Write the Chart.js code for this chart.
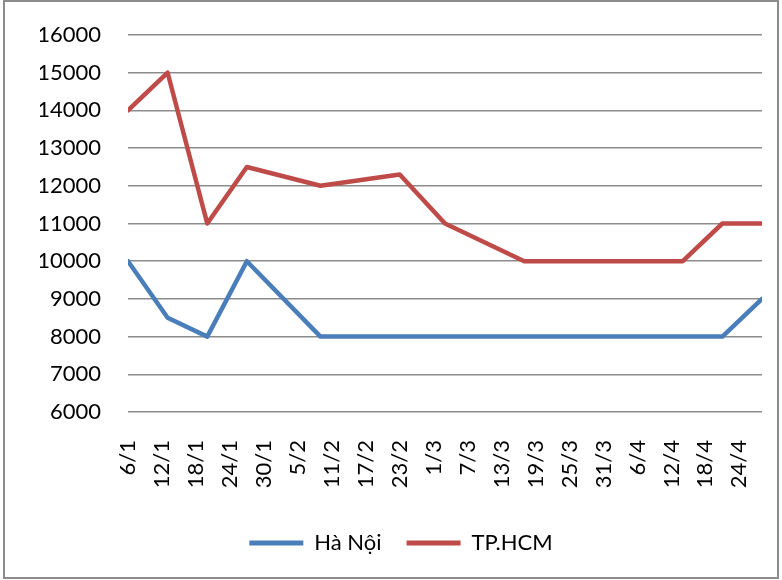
<!DOCTYPE html>
<html>
<head>
<meta charset="utf-8">
<script src="https://cdn.jsdelivr.net/npm/chart.js@4/dist/chart.umd.min.js"></script>
<style>
html,body{margin:0;padding:0;background:#fff;}
#wrap{width:782px;height:580px;position:relative;}
</style>
</head>
<body>
<div id="wrap"><canvas id="c" width="782" height="580"></canvas></div>
<script>
// Dates of observations (d/m, non-leap year)
const pointDates = ['6/1','13/1','20/1','27/1','9/2','23/2','3/3','17/3','14/4','21/4','28/4'];
const hanoi = [10000, 8500, 8000, 10000, 8000, 8000, 8000, 8000, 8000, 8000, 9000];
const hcm   = [14000, 15000, 11000, 12500, 12000, 12300, 11000, 10000, 10000, 11000, 11000];
const tickLabels = ['6/1','12/1','18/1','24/1','30/1','5/2','11/2','17/2','23/2','1/3','7/3','13/3','19/3','25/3','31/3','6/4','12/4','18/4','24/4'];
const seriesNames = ['Hà Nội', 'TP.HCM'];
const axisStart = '6/1';
const axisEnd = '28/4';

const monthLen = [31,28,31,30,31,30,31,31,30,31,30,31];
function dayOfYear(s){
  const [d,m] = s.split('/').map(Number);
  let n = d;
  for (let i = 0; i < m-1; i++) n += monthLen[i];
  return n;
}
const base = dayOfYear(axisStart);
const toX = s => dayOfYear(s) - base;
const tickDays = tickLabels.map(toX);

const FONT = {family: 'Lato', size: 22};

const borderPlugin = {
  id: 'frame',
  afterDraw(chart){
    const ctx = chart.ctx;
    ctx.save();
    ctx.strokeStyle = '#8c8c8c';
    ctx.lineWidth = 2;
    ctx.strokeRect(4, 1, 774, 577);
    ctx.restore();
  }
};

new Chart(document.getElementById('c'), {
  type: 'line',
  data: {
    datasets: [
      {
        label: seriesNames[0],
        data: pointDates.map((d,i)=>({x: toX(d), y: hanoi[i]})),
        borderColor: '#4a7ebb',
        backgroundColor: '#4a7ebb',
        borderWidth: 4.5,
        pointRadius: 0,
        tension: 0,
        borderJoinStyle: 'round',
        borderCapStyle: 'round'
      },
      {
        label: seriesNames[1],
        data: pointDates.map((d,i)=>({x: toX(d), y: hcm[i]})),
        borderColor: '#be4b48',
        backgroundColor: '#be4b48',
        borderWidth: 4.5,
        pointRadius: 0,
        tension: 0,
        borderJoinStyle: 'round',
        borderCapStyle: 'round'
      }
    ]
  },
  options: {
    responsive: false,
    animation: false,
    devicePixelRatio: 1,
    layout: {padding: {left: 40, right: 20, top: 35, bottom: 16}},
    plugins: {
      tooltip: {enabled: false},
      legend: {
        position: 'bottom',
        labels: {
          font: FONT,
          color: '#000',
          boxWidth: 54,
          boxHeight: 5,
          padding: 25,
          generateLabels(chart){
            const items = Chart.defaults.plugins.legend.labels.generateLabels(chart);
            items.forEach(it => { it.lineWidth = 0; it.strokeStyle = it.fillStyle; });
            return items;
          }
        }
      }
    },
    scales: {
      x: {
        type: 'linear',
        min: 0,
        max: toX(axisEnd),
        afterBuildTicks(scale){ scale.ticks = tickDays.map(v => ({value: v})); },
        afterFit(scale){ scale.height = 95; scale.paddingLeft = 0; scale.paddingRight = 0; },
        grid: {display: false, drawTicks: false},
        border: {display: false},
        ticks: {
          font: FONT,
          color: '#000',
          minRotation: 90,
          maxRotation: 90,
          autoSkip: false,
          padding: 28,
          callback(v, i){ return tickLabels[i]; }
        }
      },
      y: {
        min: 6000,
        max: 16000,
        afterFit(scale){ scale.width = 88; scale.paddingTop = 0; scale.paddingBottom = 0; },
        grid: {color: '#8c8c8c', lineWidth: 1.5, drawTicks: false},
        border: {display: false},
        ticks: {
          font: FONT,
          color: '#000',
          stepSize: 1000,
          padding: 27,
          callback(v){ return String(v); }
        }
      }
    }
  },
  plugins: [borderPlugin]
});
</script>
</body>
</html>
